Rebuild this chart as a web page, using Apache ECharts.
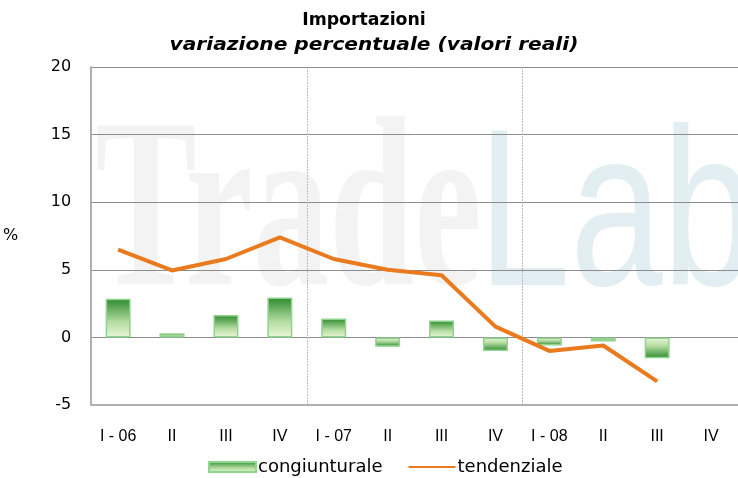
<!DOCTYPE html>
<html>
<head>
<meta charset="utf-8">
<script src="https://cdn.jsdelivr.net/npm/echarts@6/dist/echarts.min.js"></script>
<style>
  html, body { margin: 0; padding: 0; background: #fff; }
  #chart { width: 738px; height: 478px; }
</style>
</head>
<body>
<div id="chart"></div>
<script>
// trimestri 2006-2008
const categories = ['I - 06', 'II', 'III', 'IV', 'I - 07', 'II', 'III', 'IV', 'I - 08', 'II', 'III', 'IV']
const congiunturale = [2.85, 0.3, 1.65, 2.95, 1.4, -0.7, 1.25, -1.0, -0.6, -0.3, -1.55, null]
const tendenziale = [6.5, 4.95, 5.8, 7.4, 5.8, 5.0, 4.6, 0.8, -1.0, -0.6, -3.25, null]
const yTicks = { min: -5, max: 20, step: 5 }

const dark = '#2c8a2c'
const light = '#eaf7d8'

function grad (neg) {
  // scuro all'estremo della barra, chiaro verso lo zero
  return new echarts.graphic.LinearGradient(0, 0, 0, 1, neg
    ? [{ offset: 0, color: light }, { offset: 0.4, color: '#b5dca2' }, { offset: 1, color: dark }]
    : [{ offset: 0, color: dark }, { offset: 0.6, color: '#b5dca2' }, { offset: 1, color: light }])
}

const myChart = echarts.init(document.getElementById('chart'))

const opt = {
  animation: false,
  graphic: [
    {
      type: 'text', left: 95, top: 100, z: -10, scaleX: 0.63,
      style: { text: 'Trade', font: 'bold 242px "Liberation Serif"', fill: '#f3f3f3' }
    },
    {
      type: 'text', left: 478, top: 111, z: -10, scaleX: 0.74,
      style: { text: 'Lab', font: '224px "Liberation Sans"', fill: '#e3eef2' }
    },
    {
      type: 'text', x: 364, y: 12, scaleX: 1.02,
      style: {
        text: 'Importazioni', textAlign: 'center', textVerticalAlign: 'top',
        font: 'bold 17px "DejaVu Sans"', fill: '#000'
      }
    },
    {
      type: 'text', x: 374, y: 36, scaleX: 1.12,
      style: {
        text: 'variazione percentuale (valori reali)', textAlign: 'center', textVerticalAlign: 'top',
        font: 'italic bold 18px "DejaVu Sans"', fill: '#000'
      }
    }
  ],
  legend: {
    bottom: -3,
    left: 203,
    itemWidth: 47,
    itemHeight: 10,
    itemGap: 25,
    textStyle: { fontFamily: 'DejaVu Sans', fontSize: 18, color: '#000', padding: [0, 0, 0, -3] },
    data: [
      { name: 'congiunturale', icon: 'rect' },
      { name: 'tendenziale', itemStyle: { opacity: 0 }, lineStyle: { width: 2 } }
    ]
  },
  grid: {
    left: 90,
    right: -12,
    top: 67,
    bottom: 73
  },
  xAxis: {
    type: 'category',
    data: categories,
    axisTick: { show: false },
    axisLine: { onZero: false, lineStyle: { color: '#b0b0b0', width: 2 } },
    axisLabel: {
      interval: 0,
      margin: 24,
      fontFamily: 'Liberation Sans',
      fontSize: 16,
      color: '#000'
    },
    splitLine: {
      show: true,
      interval: (i) => i === 4 || i === 8,
      lineStyle: { color: '#bbb', type: [2, 1], width: 1 }
    }
  },
  yAxis: {
    type: 'value',
    min: yTicks.min,
    max: yTicks.max,
    interval: yTicks.step,
    name: '%',
    nameLocation: 'middle',
    nameRotate: 0,
    nameGap: 73,
    nameTextStyle: { fontFamily: 'DejaVu Sans', fontSize: 16, color: '#000' },
    axisLine: { show: true, lineStyle: { color: '#b0b0b0', width: 2 } },
    axisTick: { show: false },
    axisLabel: { margin: 20, fontFamily: 'DejaVu Sans', fontSize: 16, color: '#000' },
    splitLine: { lineStyle: { color: '#8c8c8c', width: 1 } }
  },
  series: [
    {
      name: 'congiunturale',
      type: 'bar',
      barWidth: 25,
      itemStyle: { color: grad(false), borderColor: '#8fd48f', borderWidth: 1.5 },
      data: congiunturale.map(v => v === null ? null : {
        value: v,
        itemStyle: { color: grad(v < 0) }
      })
    },
    {
      name: 'tendenziale',
      type: 'line',
      data: tendenziale,
      symbol: 'none',
      color: '#e97a1e',
      lineStyle: { width: 4, color: '#e97a1e' },
      z: 3
    }
  ]
}

myChart.setOption(opt, true)
window.addEventListener('resize', () => myChart.resize())
</script>
</body>
</html>
